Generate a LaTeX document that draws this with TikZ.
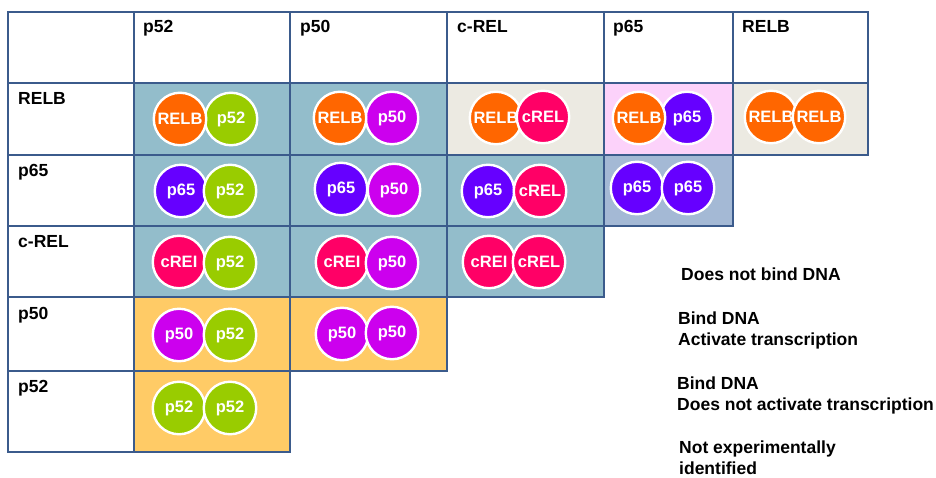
\documentclass[tikz,border=0pt]{standalone}
\usepackage{fontspec}
\setsansfont{Liberation Sans}
\definecolor{gridline}{HTML}{3B5B8C}
\definecolor{cellblue}{HTML}{93BDCB}
\definecolor{cellsteel}{HTML}{A4B9D5}
\definecolor{cellbeige}{HTML}{ECEAE2}
\definecolor{cellpink}{HTML}{FCD2FA}
\definecolor{cellgold}{HTML}{FFCB66}
\definecolor{relbcol}{HTML}{FF6600}
\definecolor{p52col}{HTML}{99CC00}
\definecolor{p50col}{HTML}{CC00EE}
\definecolor{p65col}{HTML}{6600FF}
\definecolor{crelcol}{HTML}{FF0066}
\tikzset{%
	% Specifications for style of cells and units:
	cell/.style = {draw=gridline, line width=1.8pt},
	label/.style = {anchor=base west, inner sep=0pt,
		font=\sffamily\bfseries\fontsize{17.5}{21}\selectfont},
	unit/.style = {circle, draw=white, line width=2.4pt, minimum size=52.5pt,
		inner sep=0pt, text=white,
		font=\sffamily\bfseries\fontsize{16.5}{17}\selectfont}
}
\begin{document}
\begin{tikzpicture}[x=1pt, y=-1pt]
	\useasboundingbox (0,0) rectangle (936,477);
	% Cells of the table
	\foreach \xa/\ya/\xb/\yb/\col in {
		8/12/134/83/white, 134/12/290/83/white, 290/12/447/83/white,
		447/12/604/83/white, 604/12/733/83/white, 733/12/868/83/white,
		8/83/134/155/white, 134/83/290/155/cellblue, 290/83/447/155/cellblue,
		447/83/604/155/cellbeige, 604/83/733/155/cellpink, 733/83/868/155/cellbeige,
		8/155/134/226/white, 134/155/290/226/cellblue, 290/155/447/226/cellblue,
		447/155/604/226/cellblue, 604/155/733/226/cellsteel,
		8/226/134/297/white, 134/226/290/297/cellblue, 290/226/447/297/cellblue,
		447/226/604/297/cellblue,
		8/297/134/371/white, 134/297/290/371/cellgold, 290/297/447/371/cellgold,
		8/371/134/452/white, 134/371/290/452/cellgold}
		\draw[cell, fill=\col] (\xa,\ya) rectangle (\xb,\yb);
	
	% Column and row headings
	\node (h-p52)  [label] at (143,32) {p52};
	\node (h-p50)  [label] at (300,32) {p50};
	\node (h-crel) [label] at (457,32) {c-REL};
	\node (h-p65)  [label] at (613,32) {p65};
	\node (h-relb) [label] at (742,32) {RELB};
	\node (r-relb) [label] at (18,104) {RELB};
	\node (r-p65)  [label] at (18,176) {p65};
	\node (r-crel) [label] at (18,247) {c-REL};
	\node (r-p50)  [label] at (18,319) {p50};
	\node (r-p52)  [label] at (18,392) {p52};
	
	% Dimers, in drawing order
	\foreach \x/\y/\col/\txt/\name in {
		231/119/p52col/p52/relb-p52-b, 180/119/relbcol/RELB/relb-p52-a,
		392/118/p50col/p50/relb-p50-b, 340/118/relbcol/RELB/relb-p50-a,
		496/118/relbcol/RELB/relb-crel-a, 543/117/crelcol/cREL/relb-crel-b,
		687/118/p65col/p65/relb-p65-b, 639/118/relbcol/RELB/relb-p65-a,
		771/117/relbcol/RELB/relb-relb-a, 819/117/relbcol/RELB/relb-relb-b,
		181/191/p65col/p65/p65-p52-a, 230/191/p52col/p52/p65-p52-b,
		341/189/p65col/p65/p65-p50-a, 394/190/p50col/p50/p65-p50-b,
		488/191/p65col/p65/p65-crel-a, 540/191/crelcol/cREL/p65-crel-b,
		637/188/p65col/p65/p65-p65-a, 688/188/p65col/p65/p65-p65-b,
		179/262/crelcol/cREI/crel-p52-a, 230/263/p52col/p52/crel-p52-b,
		342/262/crelcol/cREI/crel-p50-a, 392/263/p50col/p50/crel-p50-b,
		489/262/crelcol/cREI/crel-crel-a, 539/262/crelcol/cREL/crel-crel-b,
		179/335/p50col/p50/p50-p52-a, 230/335/p52col/p52/p50-p52-b,
		342/334/p50col/p50/p50-p50-a, 392/333/p50col/p50/p50-p50-b,
		179/408/p52col/p52/p52-p52-a, 230/408/p52col/p52/p52-p52-b}
		\node (\name) [unit, fill=\col] at (\x,\y) {\txt};
	
	% Legend (base of a two-line node is its last line)
	\node (leg-none)    [label] at (681,280) {Does not bind DNA};
	\node (leg-act)     [label, align=left] at (678,345) {Bind DNA\\Activate transcription};
	\node (leg-bind)    [label, align=left] at (677,410) {Bind DNA\\Does not activate transcription};
	\node (leg-unknown) [label, align=left] at (679,474) {Not experimentally\\identified};
\end{tikzpicture}
\end{document}
